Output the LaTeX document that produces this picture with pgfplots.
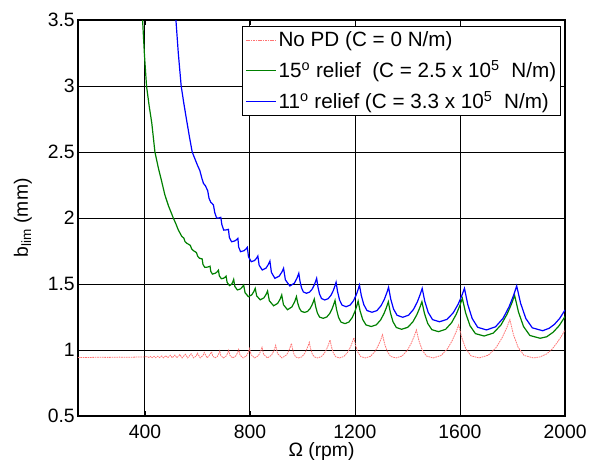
\documentclass[border=0pt]{standalone}
\usepackage{fontspec}
\setmainfont{Liberation Sans}
\usepackage{pgfplots}
\pgfplotsset{compat=1.18}
\definecolor{mgreen}{RGB}{0,128,0}
\begin{document}
\begin{tikzpicture}
\begin{axis}[
  scale only axis,
  width=365.25pt, height=297pt,
  xmin=145, xmax=2000, ymin=0.5, ymax=3.5,
  xtick={400,800,1200,1600,2000},
  xticklabels={400,800,1200,1600,2000},
  ytick={0.5,1,1.5,2,2.5,3,3.5},
  yticklabels={0.5,1,1.5,2,2.5,3,3.5},
  grid=major,
  major grid style={black, line width=0.7pt},
  axis line style={black, line width=0.8pt},
  tick style={black, line width=0.6pt},
  tick align=inside,
  major tick length=4pt,
  ticklabel style={font=\fontsize{14.5}{17}\selectfont},
  xticklabel style={inner sep=0pt, anchor=north, yshift=-6.75pt},
  yticklabel style={inner sep=0pt, anchor=east, xshift=-2.25pt},
  xlabel={Ω (rpm)},
  ylabel={b\textsubscript{lim} (mm)},
  xlabel style={at={(axis description cs:0.5,-0.0657)}, anchor=north, inner sep=0pt, font=\fontsize{14.5}{17}\selectfont},
  ylabel style={at={(axis description cs:-0.1027,0.5)}, anchor=base, inner sep=0pt, font=\fontsize{14.5}{17}\selectfont},
  legend style={at={(0.9925,0.985)}, anchor=north east, line width=0.8pt, fill=white,
    font=\fontsize{15.5}{18}\selectfont, inner xsep=2pt, inner ysep=2.5pt, row sep=6pt, nodes={inner sep=1.5pt}},
  legend cell align=left,
  legend image code/.code={\draw[#1] (0pt,0pt) -- (22.5pt,0pt);},
]
\addplot[draw=red!55, line width=0.6pt, dash pattern=on 1.2pt off 0.6pt] coordinates {
(145,0.944)(180,0.943)(220,0.945)(260,0.944)(300,0.946)(340,0.945)(380,0.947)(400,0.948)
(410,0.950)(414.8,0.942)(422,0.951)(427.2,0.942)(435,0.952)(440.6,0.942)(449,0.953)(455,0.942)(464,0.955)(470.4,0.941)(480,0.957)(486.8,0.941)(497,0.960)(503.8,0.941)(514,0.962)(521.6,0.941)(533,0.965)(541.4,0.940)(554,0.968)(562.8,0.940)(576,0.972)(585.6,0.940)(595.7,0.956)(600,0.976)(610.4,0.940)(621.3,0.959)(626,0.981)(637.2,0.940)(645.6,0.961)(654,0.986)
(657.7,0.956)(666.4,0.940)(675.7,0.951)(681.3,0.972)(685,0.992)
(689.1,0.958)(698.6,0.940)(708.8,0.953)(714.9,0.975)(719,0.998)
(723.6,0.960)(734.2,0.940)(745.6,0.954)(752.4,0.979)(757,1.004)
(762,0.962)(773.8,0.940)(786.4,0.955)(793.9,0.983)(799,1.011)
(804.4,0.964)(817.8,0.940)(831.9,0.957)(840.4,0.989)(846,1.020)
(852,0.967)(866.8,0.940)(882.4,0.961)(891.8,0.998)(898,1.035)
(905,0.973)(922,0.940)(940,0.964)(950.8,1.007)(958,1.050)
(962.1,1.008)(967.5,0.970)(974.3,0.947)(985.2,0.940)(997.4,0.948)(1007.6,0.972)(1015.8,1.003)(1021.9,1.034)(1026,1.058)
(1030.7,1.012)(1037.1,0.972)(1045,0.948)(1057.6,0.940)(1071.8,0.950)(1083.7,0.976)(1093.2,1.012)(1100.3,1.048)(1105,1.076)
(1110.5,1.024)(1117.7,0.977)(1126.8,0.949)(1141.4,0.940)(1157.8,0.951)(1171.4,0.981)(1182.4,1.021)(1190.5,1.061)(1196,1.093)
(1202.5,1.034)(1211.3,0.982)(1222,0.950)(1239.6,0.940)(1259.2,0.952)(1275.6,0.987)(1288.7,1.033)(1298.5,1.080)(1305,1.116)
(1312.7,1.048)(1323.1,0.988)(1336,0.951)(1356.6,0.940)(1379.8,0.955)(1399.2,0.997)(1414.7,1.053)(1426.3,1.108)(1434,1.152)
(1443.7,1.070)(1456.5,0.998)(1472.6,0.954)(1498.4,0.940)(1527.4,0.958)(1551.5,1.007)(1570.8,1.073)(1585.3,1.138)(1595,1.190)
(1606.7,1.094)(1622.3,1.009)(1641.8,0.956)(1673,0.940)(1708.1,0.961)(1737.4,1.018)(1760.8,1.094)(1778.3,1.170)(1790,1.230)
(1803.5,1.118)(1821.5,1.020)(1844,0.959)(1880,0.940)(1905,0.948)(1930,0.970)(1950,1.005)(1968,1.051)(1985,1.100)(2000,1.152)
};
\addlegendentry{No PD (C = 0 N/m)}
\addplot[draw=mgreen, line width=0.9pt] coordinates {
(386,3.75)(391,3.50)(398,3.24)(406,3.00)(416,2.85)(426,2.72)(438,2.50)(451,2.38)(464,2.275)(476,2.174)(490,2.09)(508,2.0)(518,1.955)(527,1.91)(540,1.862)(548,1.848)(553,1.82)(560,1.808)(567,1.80)(573,1.792)(578,1.765)(585,1.752)(591,1.745)(596,1.738)(601,1.71)(607,1.696)(613,1.692)(618,1.69)
(621,1.648)(628,1.626)(638,1.628)(644,1.632)(648,1.635)
(650.7,1.596)(657,1.575)(668.5,1.582)(675.4,1.593)(680,1.605)
(683.3,1.562)(691,1.540)(700,1.544)(705.4,1.552)(709,1.560)
(712.9,1.513)(722,1.488)(730,1.498)(734.8,1.517)(738,1.535)
(742.2,1.482)(752,1.455)(764,1.463)(771.2,1.478)(776,1.492)
(781.4,1.434)(794,1.404)(807,1.418)(814.8,1.443)(820,1.467)
(825.7,1.410)(839,1.380)(853,1.395)(861.4,1.421)(867,1.447)
(873.9,1.373)(890,1.335)(905.5,1.353)(914.8,1.385)(921,1.417)
(927.6,1.343)(943,1.305)(960,1.327)(970.2,1.366)(977,1.404)
(981.7,1.358)(987.9,1.318)(995.6,1.293)(1008,1.285)(1019.1,1.292)(1028.4,1.312)(1035.8,1.339)(1041.3,1.365)(1045,1.386)
(1050.1,1.330)(1056.9,1.280)(1065.4,1.249)(1079,1.240)(1092.5,1.250)(1103.8,1.276)(1112.8,1.312)(1119.5,1.348)(1124,1.376)
(1129.7,1.308)(1137.3,1.248)(1146.8,1.211)(1162,1.200)(1177,1.212)(1189.5,1.246)(1199.5,1.290)(1207,1.335)(1212,1.370)
(1219.5,1.296)(1229.5,1.231)(1242,1.190)(1262,1.178)(1281.5,1.191)(1297.8,1.228)(1310.8,1.277)(1320.5,1.326)(1327,1.365)
(1334.7,1.285)(1344.9,1.214)(1357.6,1.170)(1378,1.157)(1401.1,1.172)(1420.4,1.213)(1435.8,1.268)(1447.3,1.323)(1455,1.366)
(1464.5,1.278)(1477.1,1.201)(1492.8,1.154)(1518,1.139)(1545.3,1.157)(1568.1,1.207)(1586.3,1.273)(1599.9,1.339)(1609,1.391)
(1621.5,1.281)(1638.1,1.184)(1658.8,1.124)(1692,1.106)(1726.8,1.128)(1755.8,1.189)(1779,1.270)(1796.4,1.350)(1808,1.414)
(1822.6,1.289)(1842,1.178)(1866.2,1.110)(1905,1.089)(1930,1.100)(1955,1.135)(1978,1.185)(2000,1.253)
};
\addlegendentry{15\textsuperscript{o} relief\ \ (C = 2.5 x 10\textsuperscript{5}\ \ N/m)}
\addplot[draw=blue, line width=0.9pt] coordinates {
(512,3.70)(518,3.50)(527,3.25)(538,3.00)(548,2.87)(558,2.75)(569,2.62)(580,2.50)(590,2.45)(600,2.40)(609,2.36)(617,2.30)(623,2.262)(630,2.245)(639,2.207)(644,2.15)(651,2.118)(656,2.11)(661,2.098)(666,2.04)(673,2.0)(681,2.0)(689,2.005)(693,1.95)(700,1.908)(710,1.91)(718,1.914)
(721.6,1.852)(730,1.82)(742,1.826)(749.2,1.836)(754,1.846)
(757,1.780)(764,1.745)(777,1.752)(784.8,1.765)(790,1.778)
(794.5,1.706)(805,1.669)(817.5,1.678)(825,1.695)(830,1.712)
(835,1.642)(847,1.606)(861.5,1.621)(870,1.648)(876,1.674)
(881.7,1.588)(895,1.543)(911.5,1.560)(921.4,1.590)(928,1.619)
(935,1.531)(952,1.485)(969,1.506)(979,1.544)(986,1.581)
(990.4,1.523)(996.2,1.472)(1003.4,1.440)(1015,1.430)(1026.7,1.438)(1036.5,1.460)(1044.3,1.490)(1050.1,1.520)(1054,1.543)
(1058.7,1.480)(1064.9,1.424)(1072.6,1.390)(1085,1.379)(1097.9,1.389)(1108.7,1.415)(1117.3,1.450)(1123.7,1.485)(1128,1.513)
(1133.7,1.442)(1141.3,1.379)(1150.8,1.340)(1166,1.328)(1181.3,1.340)(1194,1.372)(1204.3,1.415)(1211.9,1.458)(1217,1.492)
(1224.2,1.412)(1233.8,1.343)(1245.8,1.299)(1265,1.286)(1283.9,1.299)(1299.7,1.337)(1312.3,1.386)(1321.7,1.436)(1328,1.475)
(1336.1,1.387)(1346.9,1.310)(1360.4,1.263)(1382,1.248)(1404.2,1.264)(1422.7,1.307)(1437.5,1.364)(1448.6,1.422)(1456,1.467)
(1465.9,1.369)(1479.1,1.284)(1495.6,1.230)(1522,1.214)(1550.5,1.232)(1574.3,1.282)(1593.3,1.348)(1607.5,1.415)(1617,1.467)
(1629.6,1.345)(1646.4,1.239)(1667.4,1.172)(1701,1.152)(1735.5,1.176)(1764.3,1.241)(1787.3,1.329)(1804.5,1.416)(1816,1.485)
(1830.9,1.354)(1850.7,1.239)(1875.4,1.168)(1915,1.146)(1940,1.165)(1960,1.195)(1980,1.240)(2000,1.303)
};
\addlegendentry{11\textsuperscript{o} relief (C = 3.3 x 10\textsuperscript{5}\ \ N/m)}
\end{axis}
\pgfresetboundingbox
\path[use as bounding box] (-58.5pt,-33.75pt) rectangle (384.75pt,312pt);
\end{tikzpicture}
\end{document}
